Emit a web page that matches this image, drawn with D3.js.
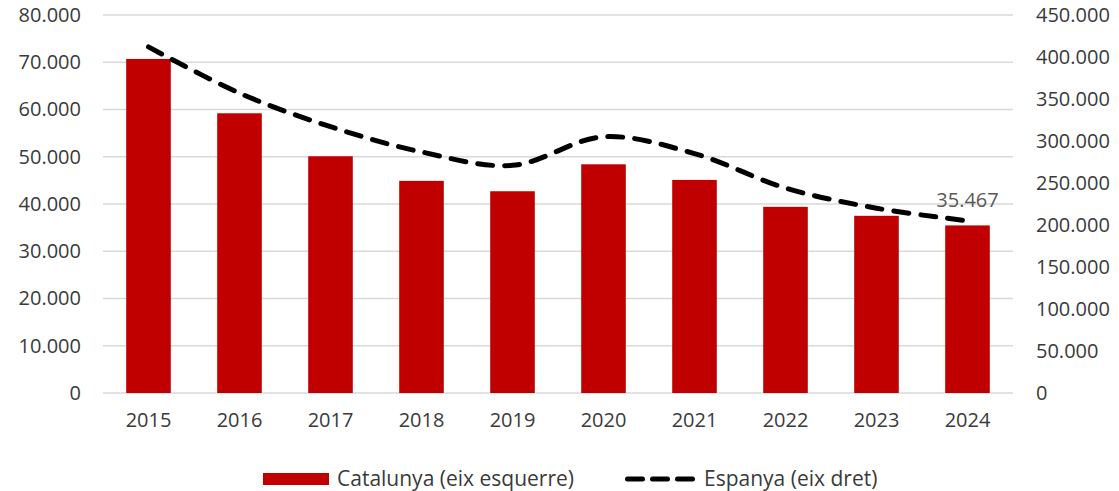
<!DOCTYPE html>
<html>
<head>
<meta charset="utf-8">
<script src="https://cdn.jsdelivr.net/npm/d3@7"></script>
<style>
  body { margin: 0; background: #fff; }
  text { font-family: "Open Sans", sans-serif; fill: #3a3a3a; }
</style>
</head>
<body>
<div id="chart"></div>
<script>
const years = ["2015", "2016", "2017", "2018", "2019", "2020", "2021", "2022", "2023", "2024"];
const catalunya = [70700, 59200, 50100, 44900, 42700, 48400, 45100, 39400, 37500, 35467];
const espanya = [412000, 357000, 317000, 287000, 271000, 305000, 285000, 244000, 220000, 205000];
const leftTicks = [0, 10000, 20000, 30000, 40000, 50000, 60000, 70000, 80000];
const rightTicks = [0, 50000, 100000, 150000, 200000, 250000, 300000, 350000, 400000, 450000];

const W = 1119, H = 491;
const margin = {top: 15, right: 106, bottom: 98, left: 103},
    width = W - margin.left - margin.right,
    height = H - margin.top - margin.bottom;

const fmt = d3.format(",.0f");
const num = v => fmt(v).replace(/,/g, ".");

const svg = d3.select("#chart")
  .append("svg")
    .attr("width", W)
    .attr("height", H)
  .append("g")
    .attr("transform", "translate(" + margin.left + "," + margin.top + ")");

const x = d3.scaleBand().domain(years).range([0, width]).paddingInner(0.51).paddingOuter(0.255);
const yL = d3.scaleLinear().domain([0, 80000]).range([height, 0]);
const yR = d3.scaleLinear().domain([0, 450000]).range([height, 0]);

// gridlines
svg.append("g")
  .selectAll("line")
  .data(leftTicks)
  .join("line")
    .attr("x1", 0).attr("x2", width)
    .attr("y1", d => yL(d)).attr("y2", d => yL(d))
    .attr("stroke", "#d9d9d9")
    .attr("stroke-width", 1.5);

// left axis
const gl = svg.append("g")
  .call(d3.axisLeft(yL).tickValues(leftTicks).tickFormat(num).tickSize(0).tickPadding(22));
gl.select(".domain").remove();
gl.selectAll("text").style("font-size", "20px").style("fill", "#3a3a3a");

// right axis
const gr = svg.append("g")
  .attr("transform", "translate(" + width + ",0)")
  .call(d3.axisRight(yR).tickValues(rightTicks).tickFormat(num).tickSize(0).tickPadding(23));
gr.select(".domain").remove();
gr.selectAll("text").style("font-size", "20px").style("fill", "#3a3a3a");

// x axis
const gx = svg.append("g")
  .attr("transform", "translate(0," + height + ")")
  .call(d3.axisBottom(x).tickSize(0).tickPadding(20));
gx.select(".domain").remove();
gx.selectAll("text").style("font-size", "20px").style("fill", "#3a3a3a");

// bars
svg.selectAll("rect.bar")
  .data(years)
  .join("rect")
    .attr("class", "bar")
    .attr("x", d => x(d))
    .attr("y", (d, i) => yL(catalunya[i]))
    .attr("width", x.bandwidth())
    .attr("height", (d, i) => height - yL(catalunya[i]))
    .attr("fill", "#c00000");

// line
const line = d3.line()
  .x((d, i) => x(years[i]) + x.bandwidth() / 2)
  .y(d => yR(d))
  .curve(d3.curveCatmullRom.alpha(0.5));

svg.append("path")
  .datum(espanya)
  .attr("d", line)
  .attr("fill", "none")
  .attr("stroke", "#000")
  .attr("stroke-width", 5)
  .attr("stroke-linecap", "round")
  .attr("stroke-dasharray", "15,12");

// data label on last bar
const last = years.length - 1;
svg.append("text")
  .attr("x", x(years[last]) + x.bandwidth() / 2)
  .attr("y", yR(espanya[last]) - 14)
  .attr("text-anchor", "middle")
  .style("font-size", "20px")
  .style("fill", "#595959")
  .text(num(catalunya[last]));

// legend
const lg = svg.append("g").attr("transform", "translate(0," + (height + 86) + ")");
lg.append("rect")
  .attr("x", 160).attr("y", -6)
  .attr("width", 66).attr("height", 12)
  .attr("fill", "#c00000");
lg.append("text")
  .attr("x", 234).attr("y", 0).attr("dy", "0.35em")
  .style("font-size", "21px")
  .text("Catalunya (eix esquerre)");
lg.append("line")
  .attr("x1", 524.5).attr("x2", 589.5)
  .attr("y1", 0).attr("y2", 0)
  .attr("stroke", "#000")
  .attr("stroke-width", 5)
  .attr("stroke-linecap", "round")
  .attr("stroke-dasharray", "15,10");
lg.append("text")
  .attr("x", 601).attr("y", 0).attr("dy", "0.35em")
  .style("font-size", "21px")
  .text("Espanya (eix dret)");
</script>
</body>
</html>
